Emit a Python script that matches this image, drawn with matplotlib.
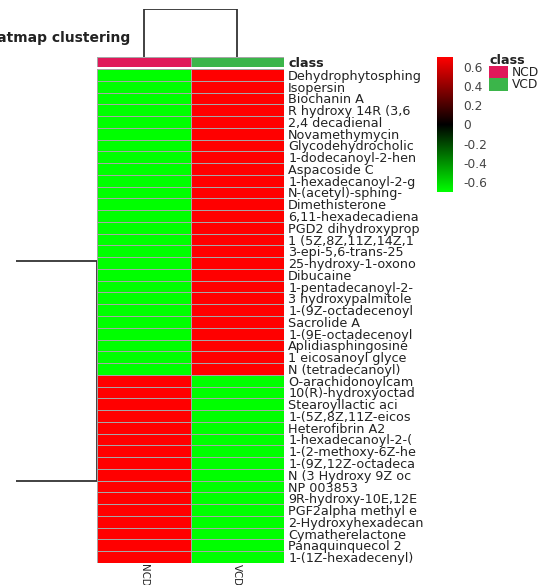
import numpy as np
import matplotlib
matplotlib.use("Agg")
import matplotlib.pyplot as plt
from matplotlib.colors import LinearSegmentedColormap, ListedColormap
from matplotlib.patches import Rectangle

# row labels, top to bottom (truncated as in the original)
row_labels = [
    "Dehydrophytosphing", "Isopersin", "Biochanin A", "R hydroxy 14R (3,6",
    "2,4 decadienal", "Novamethymycin", "Glycodehydrocholic", "1-dodecanoyl-2-hen",
    "Aspacoside C", "1-hexadecanoyl-2-g", "N-(acetyl)-sphing-", "Dimethisterone",
    "6,11-hexadecadiena", "PGD2 dihydroxyprop", "1 (5Z,8Z,11Z,14Z,1", "3-epi-5,6-trans-25",
    "25-hydroxy-1-oxono", "Dibucaine", "1-pentadecanoyl-2-", "3 hydroxypalmitole",
    "1-(9Z-octadecenoyl", "Sacrolide A", "1-(9E-octadecenoyl", "Aplidiasphingosine",
    "1 eicosanoyl glyce", "N (tetradecanoyl)",
    "O-arachidonoylcam", "10(R)-hydroxyoctad", "Stearoyllactic aci", "1-(5Z,8Z,11Z-eicos",
    "Heterofibrin A2", "1-hexadecanoyl-2-(", "1-(2-methoxy-6Z-he", "1-(9Z,12Z-octadeca",
    "N (3 Hydroxy 9Z oc", "NP 003853", "9R-hydroxy-10E,12E", "PGF2alpha methyl e",
    "2-Hydroxyhexadecan", "Cymatherelactone", "Panaquinquecol 2", "1-(1Z-hexadecenyl)",
]
col_labels = ["NCD", "VCD"]

# row-scaled values (z-score of two columns)
n_top = 26
n_bottom = 16
ncd_vals = [-0.7071] * n_top + [0.7071] * n_bottom
vcd_vals = [0.7071] * n_top + [-0.7071] * n_bottom

# dendrogram info (node positions in row units, heights)
row_node_pos = [16.3, 35.0]
row_height = 1.0
col_height = 1.0

class_colors = {"NCD": "#E0195A", "VCD": "#3BB54A"}
cbar_ticks = [0.6, 0.4, 0.2, 0, -0.2, -0.4, -0.6]
cbar_ticklabels = ["0.6", "0.4", "0.2", "0", "-0.2", "-0.4", "-0.6"]

W, H = 551, 585
fig = plt.figure(figsize=(W / 100, H / 100), dpi=100)


def px_axes(x0, y0, x1, y1):
    return fig.add_axes([x0 / W, 1 - y1 / H, (x1 - x0) / W, (y1 - y0) / H])


cmap = LinearSegmentedColormap.from_list("gbr", ["#00FF00", "#000000", "#FF0000"], N=256)
vmax = 0.7071

data = np.column_stack([ncd_vals, vcd_vals])
nrows = data.shape[0]
fs = 9.2

# heatmap
ax = px_axes(97, 69, 284, 563)
ax.pcolormesh(data, cmap=cmap, vmin=-vmax, vmax=vmax, edgecolors="#A6A6A6", linewidth=0.6)
ax.set_xlim(0, 2)
ax.set_ylim(nrows, 0)
ax.set_yticks(np.arange(nrows) + 0.5)
ax.set_yticklabels(row_labels, fontsize=fs, color="#222222")
ax.yaxis.tick_right()
ax.set_xticks(np.arange(2) + 0.5)
ax.set_xticklabels(col_labels, rotation=270, fontsize=7.4, color="#222222")
ax.tick_params(axis="y", length=0, pad=3)
ax.tick_params(axis="x", length=0, pad=1)
for s in ax.spines.values():
    s.set_visible(False)

# class annotation bar
axc = px_axes(97, 57, 284, 67)
axc.pcolormesh([[0, 1]], cmap=ListedColormap([class_colors["NCD"], class_colors["VCD"]]),
               edgecolors="#A6A6A6", linewidth=0.6)
axc.set_xlim(0, 2)
axc.set_xticks([])
axc.set_yticks([0.5])
axc.set_yticklabels(["class"], fontsize=fs, fontweight="bold", color="#222222")
axc.yaxis.tick_right()
axc.tick_params(length=0, pad=3)
for s in axc.spines.values():
    s.set_visible(False)

# column dendrogram
axd = px_axes(97, 9, 284, 57)
axd.plot([0.5, 0.5, 1.5, 1.5], [0, col_height, col_height, 0], color="#333333", lw=1.3,
         solid_joinstyle="miter")
axd.set_xlim(0, 2)
axd.set_ylim(0, col_height * 1.0)
axd.axis("off")

# row dendrogram
axr = px_axes(16, 69, 97, 563)
axr.plot([0, row_height, row_height, 0], [row_node_pos[0], row_node_pos[0], row_node_pos[1], row_node_pos[1]],
         color="#333333", lw=1.3, solid_joinstyle="miter")
axr.set_xlim(0, row_height)
axr.set_ylim(nrows, 0)
axr.axis("off")

# colorbar
axb = px_axes(437, 57, 452, 192)
grad = np.linspace(-vmax, vmax, 256).reshape(-1, 1)
axb.imshow(grad, cmap=cmap, aspect="auto", origin="lower", extent=[0, 1, -vmax, vmax])
axb.set_xticks([])
axb.yaxis.tick_right()
axb.set_yticks(cbar_ticks)
axb.set_yticklabels(cbar_ticklabels, fontsize=8.8, color="#444444")
axb.tick_params(length=0, pad=8)
for s in axb.spines.values():
    s.set_visible(False)

# class legend
fig.text(489 / W, 1 - 60 / H, "class", fontsize=fs, fontweight="bold", color="#222222",
         va="center", ha="left")
for i, lab in enumerate(col_labels):
    y0 = 66 + i * 12.5
    fig.patches.append(Rectangle((489 / W, 1 - (y0 + 12) / H), 19 / W, 12 / H,
                                 transform=fig.transFigure, facecolor=class_colors[lab],
                                 edgecolor="none"))
    fig.text(512 / W, 1 - (y0 + 6) / H, lab, fontsize=8.8, color="#222222", va="center", ha="left")

# title (cut off at the left edge as in the original)
fig.text(130 / W, 1 - 38 / H, "Heatmap clustering", fontsize=10, fontweight="bold",
         color="#222222", ha="right", va="center")

fig.savefig("out.png", dpi=100)
